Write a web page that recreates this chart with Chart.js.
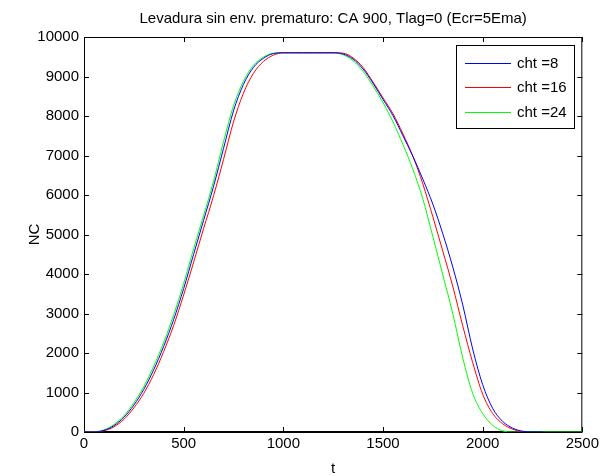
<!DOCTYPE html>
<html>
<head>
<meta charset="utf-8">
<script src="https://cdn.jsdelivr.net/npm/chart.js@4/dist/chart.umd.min.js"></script>
<style>
html,body{margin:0;padding:0;background:#fff;}
#wrap{width:602px;height:476px;}
</style>
</head>
<body>
<div id="wrap"><canvas id="c" width="602" height="476"></canvas></div>
<script>
const titleText = "Levadura sin env. prematuro: CA 900, Tlag=0 (Ecr=5Ema)";
const xLabel = "t";
const yLabel = "NC";
const seriesLabels = ["cht =8", "cht =16", "cht =24"];
const seriesColors = ["#0000ff", "#ff0000", "#00ff00"];

const t = [0,50,100,150,200,250,300,350,400,450,500,550,600,650,700,750,800,850,900,950,
  1000,1050,1100,1150,1200,1250,1300,1350,1400,1450,1500,1550,1600,1650,1700,1750,1800,1850,1900,1950,
  2000,2050,2100,2150,2200,2250,2300,2350,2400,2450,2500];

const nc8 = [0,0,40,160,370,680,1080,1580,2170,2850,3630,4500,5360,6220,7180,8130,8800,9230,9460,9580,
  9600,9600,9600,9600,9600,9600,9570,9440,9190,8830,8420,8010,7500,6980,6400,5770,5020,4180,3220,2100,
  1200,600,270,100,20,0,0];

const nc16 = [0,0,30,130,320,610,980,1460,2040,2700,3470,4300,5150,5980,6900,7850,8580,9080,9380,9540,
  9600,9600,9600,9600,9600,9600,9590,9470,9230,8860,8460,8060,7550,6980,6280,5450,4580,3690,2690,1760,
  960,470,210,70,0];

const nc24 = [0,5,55,190,410,740,1150,1670,2270,2970,3760,4640,5480,6350,7350,8260,8880,9280,9490,9590,
  9600,9600,9600,9600,9600,9600,9550,9400,9130,8760,8340,7850,7280,6650,5900,4950,3980,3000,1880,980,
  470,170,30,0,0,0,0,0,0,0,0];

const xTicks = [0,500,1000,1500,2000,2500];
const yTicks = [0,1000,2000,3000,4000,5000,6000,7000,8000,9000,10000];

const FONT = "'Liberation Sans', Arial, Helvetica, sans-serif";

function pts(vals){ return vals.map((v,i)=>({x:t[i], y:v})); }

const boxPlugin = {
  id:'matlabBox',
  beforeDatasetsDraw(chart){
    const {ctx, chartArea:a, scales:{x,y}} = chart;
    ctx.save();
    ctx.strokeStyle = '#000';
    ctx.lineWidth = 1;
    ctx.beginPath();
    ctx.moveTo(a.left+0.5, a.bottom); ctx.lineTo(a.left+0.5, a.top+0.5);
    ctx.lineTo(a.right-0.5, a.top+0.5); ctx.lineTo(a.right-0.5, a.bottom);
    ctx.stroke();
    ctx.lineWidth = 2;
    ctx.beginPath();
    ctx.moveTo(a.left, a.bottom); ctx.lineTo(a.right, a.bottom);
    ctx.stroke();
    ctx.lineWidth = 1;
    const L = 5;
    ctx.beginPath();
    xTicks.forEach(v=>{
      const px = Math.round(x.getPixelForValue(v))+0.5;
      ctx.moveTo(px, a.bottom); ctx.lineTo(px, a.bottom-L);
      ctx.moveTo(px, a.top); ctx.lineTo(px, a.top+L);
    });
    yTicks.forEach(v=>{
      const py = Math.round(y.getPixelForValue(v))+0.5;
      ctx.moveTo(a.left, py); ctx.lineTo(a.left+L, py);
      ctx.moveTo(a.right, py); ctx.lineTo(a.right-L, py);
    });
    ctx.stroke();
    // title centred over the plot area
    ctx.fillStyle = '#000';
    ctx.font = "15px " + FONT;
    ctx.textAlign = 'center';
    ctx.textBaseline = 'middle';
    ctx.fillText(titleText, (a.left + a.right) / 2, 19);
    ctx.restore();
  },
  afterDatasetsDraw(chart){
    const {ctx} = chart;
    ctx.save();
    const bx=456.5, by=45.5, bw=118, bh=83;
    ctx.fillStyle='#fff';
    ctx.fillRect(bx,by,bw,bh);
    ctx.strokeStyle='#000';
    ctx.lineWidth=1;
    ctx.strokeRect(bx,by,bw,bh);
    ctx.font = "15px " + FONT;
    ctx.textBaseline='middle';
    ctx.textAlign='left';
    chart.data.datasets.forEach((ds,i)=>{
      const yy = 62.5 + i*24.5;
      ctx.strokeStyle = ds.borderColor;
      ctx.beginPath();
      ctx.moveTo(465, Math.round(yy)+0.5); ctx.lineTo(511, Math.round(yy)+0.5);
      ctx.stroke();
      ctx.fillStyle='#000';
      ctx.fillText(ds.label, 517, yy+1);
    });
    ctx.restore();
  }
};

new Chart(document.getElementById('c'), {
  type:'line',
  data:{
    datasets:[
      {label:seriesLabels[0], data:pts(nc8), borderColor:seriesColors[0]},
      {label:seriesLabels[1], data:pts(nc16), borderColor:seriesColors[1]},
      {label:seriesLabels[2], data:pts(nc24), borderColor:seriesColors[2]}
    ]
  },
  options:{
    responsive:false,
    animation:false,
    devicePixelRatio:1,
    layout:{padding:{left:0,right:17,top:37,bottom:0}},
    elements:{
      point:{radius:0},
      line:{borderWidth:1, fill:false, cubicInterpolationMode:'monotone'}
    },
    plugins:{
      legend:{display:false},
      tooltip:{enabled:false},
      title:{display:false}
    },
    scales:{
      x:{
        type:'linear', min:0, max:2500,
        afterBuildTicks(s){ s.ticks = xTicks.map(v=>({value:v})); },
        afterFit(s){ s.height = 44; },
        grid:{display:false, drawTicks:false},
        border:{display:false},
        ticks:{color:'#000', font:{family:FONT, size:15}, padding:3, maxRotation:0, autoSkip:false,
          callback:(v)=>String(v)},
        title:{display:true, text:xLabel, color:'#000', font:{family:FONT, size:15, lineHeight:1}, padding:{top:0,bottom:0}}
      },
      y:{
        type:'linear', min:0, max:10000,
        afterBuildTicks(s){ s.ticks = yTicks.map(v=>({value:v})); },
        afterFit(s){ s.width = 84; },
        grid:{display:false, drawTicks:false},
        border:{display:false},
        ticks:{color:'#000', font:{family:FONT, size:15}, padding:5, autoSkip:false,
          callback:(v)=>String(v)},
        title:{display:true, text:yLabel, color:'#000', font:{family:FONT, size:15}, padding:{top:26,bottom:0}}
      }
    }
  },
  plugins:[boxPlugin]
});
</script>
</body>
</html>
